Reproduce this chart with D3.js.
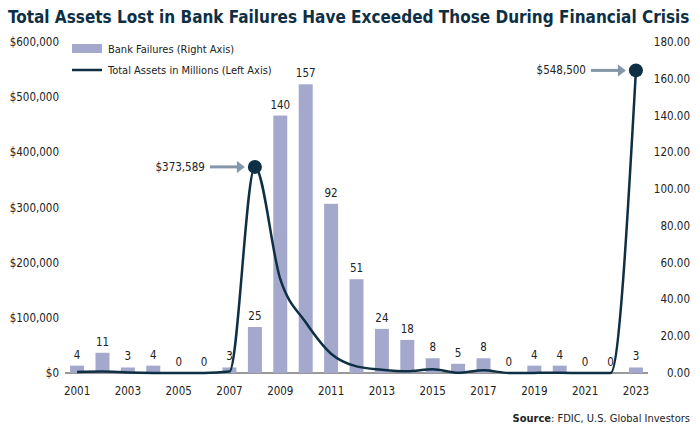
<!DOCTYPE html><html><head><meta charset="utf-8"><script src="https://cdn.jsdelivr.net/npm/d3@7"></script>
<style>body{margin:0;background:#fff}text{font-family:"DejaVu Sans Condensed","DejaVu Sans",sans-serif}</style></head><body><svg width="700" height="429"></svg><script>
const years=d3.range(2001,2024).map(String);
const failures=[4,11,3,4,0,0,3,25,140,157,92,51,24,18,8,5,8,0,4,4,0,0,3];
const assets=[2000,2500,1000,200,0,0,2600,373589,170000,92000,35000,12000,6000,3000,6700,300,5000,0,200,450,0,0,548500];
const leftTicks=[0,100000,200000,300000,400000,500000,600000];
const rightTicks=[0,20,40,60,80,100,120,140,160,180];
const svg=d3.select("svg"),navy="#0e2f44",barC="#a3a8cc",arrowC="#8497a8";
const m={l:65,r:648,t:42,b:373};
const x=d3.scaleBand().domain(years).range([m.l,m.r]).paddingInner(0.45).paddingOuter(0.2);
const yL=d3.scaleLinear().domain([0,600000]).range([m.b,m.t]);
const yR=d3.scaleLinear().domain([0,180]).range([m.b,m.t]);
svg.append("text").attr("x",8).attr("y",23).attr("font-size",17).attr("font-weight","bold").attr("fill",navy).text("Total Assets Lost in Bank Failures Have Exceeded Those During Financial Crisis");
svg.append("g").selectAll("text").data(leftTicks).join("text").attr("x",m.l-6).attr("y",d=>yL(d)+4).attr("text-anchor","end").attr("font-size",11.5).attr("fill","#222").text(d=>"$"+d3.format(",")(d));
svg.append("g").selectAll("text").data(rightTicks).join("text").attr("x",m.r+42).attr("y",d=>yR(d)+4).attr("text-anchor","end").attr("font-size",11.5).attr("fill","#222").text(d=>d.toFixed(2));
svg.append("line").attr("x1",m.l).attr("x2",m.r).attr("y1",m.b).attr("y2",m.b).attr("stroke","#333");
svg.append("g").selectAll("rect").data(failures).join("rect").attr("x",(d,i)=>x(years[i])).attr("width",x.bandwidth()).attr("y",d=>yR(d)).attr("height",d=>m.b-yR(d)).attr("fill",barC);
svg.append("g").selectAll("text").data(failures).join("text").attr("x",(d,i)=>x(years[i])+x.bandwidth()/2).attr("y",d=>yR(d)-7).attr("text-anchor","middle").attr("font-size",11.5).attr("fill","#222").text(d=>d);
svg.append("g").selectAll("text").data(years.filter((d,i)=>i%2==0)).join("text").attr("x",d=>x(d)+x.bandwidth()/2).attr("y",m.b+22).attr("text-anchor","middle").attr("font-size",11.5).attr("fill","#222").text(d=>d);
const cx=i=>x(years[i])+x.bandwidth()/2;
svg.append("path").datum(assets).attr("fill","none").attr("stroke",navy).attr("stroke-width",2.5).attr("stroke-linejoin","round").attr("d",d3.line().x((d,i)=>cx(i)).y(d=>yL(d)).curve(d3.curveMonotoneX));
[7,22].forEach(i=>{
 svg.append("circle").attr("cx",cx(i)).attr("cy",yL(assets[i])).attr("r",7).attr("fill",navy);
 const y=yL(assets[i]);
 svg.append("line").attr("x1",cx(i)-45).attr("x2",cx(i)-14).attr("y1",y).attr("y2",y).attr("stroke",arrowC).attr("stroke-width",3);
 svg.append("path").attr("d",`M${cx(i)-10},${y}L${cx(i)-18},${y-6}L${cx(i)-18},${y+6}Z`).attr("fill",arrowC);
 svg.append("text").attr("x",cx(i)-50).attr("y",y+4).attr("text-anchor","end").attr("font-size",11.5).attr("fill","#222").text("$"+d3.format(",")(assets[i]));
});
svg.append("rect").attr("x",72).attr("y",44).attr("width",30).attr("height",9).attr("fill",barC);
svg.append("text").attr("x",108).attr("y",53).attr("font-size",11).attr("fill","#222").text("Bank Failures (Right Axis)");
svg.append("line").attr("x1",72).attr("x2",102).attr("y1",70).attr("y2",70).attr("stroke",navy).attr("stroke-width",2.5);
svg.append("text").attr("x",108).attr("y",74).attr("font-size",11).attr("fill","#222").text("Total Assets in Millions (Left Axis)");
const s=svg.append("text").attr("x",690).attr("y",422).attr("text-anchor","end").attr("font-size",11).attr("fill","#222");
s.append("tspan").attr("font-weight","bold").text("Source");s.append("tspan").text(": FDIC, U.S. Global Investors");
</script></body></html>
